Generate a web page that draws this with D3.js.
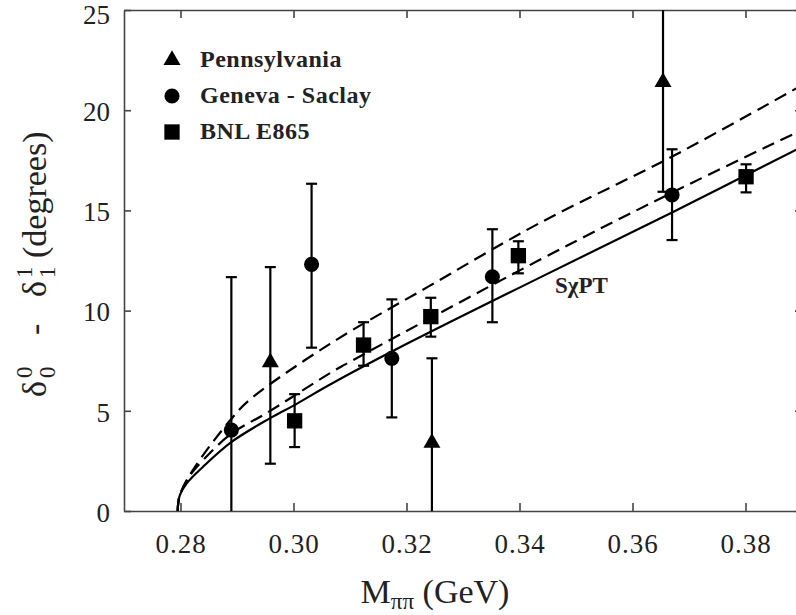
<!DOCTYPE html>
<html>
<head>
<meta charset="utf-8">
<script src="https://cdn.jsdelivr.net/npm/d3@7"></script>
<style>
  body { margin: 0; background: #fff; }
  svg { display: block; }
</style>
</head>
<body>
<div id="chart"></div>
<script>
// values (M in GeV, phase difference in degrees)
const pennX  = [0.2959, 0.3245, 0.3654];
const pennY  = [7.42, 3.40, 21.4];
const pennLo = [2.36, -1.0, 15.93];
const pennHi = [12.17, 7.62, 27.0];

const genX  = [0.2890, 0.3032, 0.3174, 0.3352, 0.3670];
const genY  = [4.04, 12.31, 7.62, 11.69, 15.77];
const genLo = [-3.5, 8.15, 4.67, 9.42, 13.52];
const genHi = [11.67, 16.33, 10.56, 14.06, 18.05];

const bnlX  = [0.3002, 0.3124, 0.3243, 0.3398, 0.3801];
const bnlY  = [4.50, 8.28, 9.70, 12.74, 16.68];
const bnlLo = [3.19, 7.25, 8.70, 11.86, 15.90];
const bnlHi = [5.83, 9.42, 10.64, 13.46, 17.30];

// theory curves
const solidX = [0.2795, 0.2796, 0.2799, 0.2811, 0.2840, 0.2891, 0.2958, 0.3000, 0.3064, 0.3186, 0.3434, 0.3670, 0.3890];
const solidY = [0, 0.40, 0.80, 1.38, 2.21, 3.46, 4.62, 5.26, 6.30, 8.13, 11.62, 14.90, 18.03];
const upperX = [0.2795, 0.2796, 0.2799, 0.2813, 0.2840, 0.2891, 0.2922, 0.3064, 0.3240, 0.3435, 0.3671, 0.3890];
const upperY = [0, 0.40, 0.80, 1.63, 2.79, 4.63, 5.54, 8.33, 11.22, 14.36, 17.70, 21.09];
const middleX = [0.2795, 0.2796, 0.2799, 0.2813, 0.2840, 0.2891, 0.2952, 0.3064, 0.3090, 0.3435, 0.3671, 0.3890];
const middleY = [0, 0.40, 0.80, 1.63, 2.54, 3.88, 4.88, 6.87, 7.29, 12.52, 15.90, 18.88];

const xTicks = [0.28, 0.30, 0.32, 0.34, 0.36, 0.38];
const yTicks = [0, 5, 10, 15, 20, 25];
const legendNames = ["Pennsylvania", "Geneva - Saclay", "BNL E865"];

const width = 796, height = 615;
const plotLeft = 124, plotTop = 10, plotBottom = 511, plotRight = 802;
const serif = "Liberation Serif";

const svg = d3.select("#chart")
  .append("svg")
    .attr("width", width)
    .attr("height", height)
    .style("font-family", serif);

const x = d3.scaleLinear().domain([0.27, 0.39]).range([plotLeft, plotRight]);
const y = d3.scaleLinear().domain([0, 25]).range([plotBottom, plotTop]);

svg.append("clipPath").attr("id", "plot")
  .append("rect")
    .attr("x", plotLeft).attr("y", plotTop)
    .attr("width", plotRight - plotLeft).attr("height", plotBottom - plotTop);

// axes, ticks pointing inward
const axisColor = "#444";
const styleAxis = g => {
  g.attr("font-family", null).attr("font-size", null);
  g.select(".domain").attr("stroke", axisColor).attr("stroke-width", 1.6);
  g.selectAll(".tick line").attr("stroke", axisColor).attr("stroke-width", 1.6);
  g.selectAll("text").attr("fill", "#222").style("font-family", serif).style("font-size", "27px");
};

svg.append("g")
  .attr("transform", `translate(0,${plotBottom})`)
  .call(d3.axisBottom(x).tickValues(xTicks).tickSize(-8).tickSizeOuter(0).tickFormat(d3.format(".2f")))
  .call(styleAxis)
  .call(g => g.selectAll("text").attr("y", 42).attr("dy", 0).attr("letter-spacing", 1));

svg.append("g")
  .attr("transform", `translate(${plotLeft},0)`)
  .call(d3.axisLeft(y).tickValues(yTicks).tickSize(-7).tickSizeOuter(0))
  .call(styleAxis)
  .call(g => g.selectAll("text").attr("x", -14).attr("dy", d => d === 25 ? "0.5em" : "0.38em"));

svg.append("g")
  .attr("transform", `translate(0,${plotTop})`)
  .call(d3.axisTop(x).tickValues(xTicks).tickSize(-8).tickSizeOuter(0).tickFormat(""))
  .call(styleAxis);

svg.append("g")
  .attr("transform", `translate(${plotRight},0)`)
  .call(d3.axisRight(y).tickValues(yTicks).tickSize(-7).tickSizeOuter(0).tickFormat(""))
  .call(styleAxis);

// curves
const line = d3.line()
  .x(d => x(d[0]))
  .y(d => y(d[1]))
  .curve(d3.curveCatmullRom.alpha(0.5));

const curves = [
  {xs: solidX, ys: solidY, dash: null},
  {xs: upperX, ys: upperY, dash: "13,7"},
  {xs: middleX, ys: middleY, dash: "13,7"}
];

const plot = svg.append("g").attr("clip-path", "url(#plot)");

plot.selectAll("path.curve")
  .data(curves)
  .join("path")
    .attr("class", "curve")
    .attr("d", c => line(d3.zip(c.xs, c.ys)))
    .attr("fill", "none")
    .attr("stroke", "#000")
    .attr("stroke-width", 2.2)
    .attr("stroke-dasharray", c => c.dash);

// data sets
const groups = [
  {name: legendNames[0], xs: pennX, ys: pennY, lo: pennLo, hi: pennHi, symbol: d3.symbolTriangle, size: 125},
  {name: legendNames[1], xs: genX, ys: genY, lo: genLo, hi: genHi, symbol: d3.symbolCircle, size: 180},
  {name: legendNames[2], xs: bnlX, ys: bnlY, lo: bnlLo, hi: bnlHi, symbol: d3.symbolSquare, size: 235}
];

const capW = 5.5;
groups.forEach(grp => {
  const pts = grp.xs.map((v, i) => ({x: v, y: grp.ys[i], lo: grp.lo[i], hi: grp.hi[i]}));
  const g = plot.append("g");

  g.selectAll("line.bar")
    .data(pts)
    .join("line")
      .attr("class", "bar")
      .attr("x1", d => x(d.x)).attr("x2", d => x(d.x))
      .attr("y1", d => y(d.lo)).attr("y2", d => y(d.hi))
      .attr("stroke", "#000").attr("stroke-width", 2.2);

  ["lo", "hi"].forEach(k => {
    g.selectAll("line.cap-" + k)
      .data(pts)
      .join("line")
        .attr("class", "cap-" + k)
        .attr("x1", d => x(d.x) - capW).attr("x2", d => x(d.x) + capW)
        .attr("y1", d => y(d[k])).attr("y2", d => y(d[k]))
        .attr("stroke", "#000").attr("stroke-width", 2.2);
  });

  g.selectAll("path.mark")
    .data(pts)
    .join("path")
      .attr("class", "mark")
      .attr("transform", d => `translate(${x(d.x)},${y(d.y)})`)
      .attr("d", d3.symbol().type(grp.symbol).size(grp.size))
      .attr("fill", "#000");
});

// legend
const legend = svg.append("g").attr("transform", "translate(172,60)");
groups.forEach((grp, i) => {
  legend.append("path")
    .attr("transform", `translate(0,${i * 36})`)
    .attr("d", d3.symbol().type(grp.symbol).size(grp.size))
    .attr("fill", "#000");
  legend.append("text")
    .attr("x", 28).attr("y", i * 36 + 7)
    .style("font-family", serif)
    .attr("font-size", 24).attr("font-weight", "bold")
    .attr("letter-spacing", 0.5)
    .attr("fill", "#222")
    .text(grp.name);
});

// curve label
svg.append("text")
  .attr("x", 555).attr("y", 293)
  .style("font-family", serif)
  .attr("font-size", 23).attr("font-weight", "bold")
  .attr("fill", "#222")
  .text("S\u03c7PT");

// x title
const xt = svg.append("text")
  .attr("x", 435).attr("y", 603)
  .attr("text-anchor", "middle")
  .style("font-family", serif)
  .attr("font-size", 34)
  .attr("fill", "#222");
xt.append("tspan").text("M");
xt.append("tspan").attr("font-size", 23).attr("dy", 6).text("\u03c0\u03c0");
xt.append("tspan").attr("dy", -6).text(" (GeV)");

// y title, rotated
const yt = svg.append("g")
  .attr("transform", "translate(46,397) rotate(-90)")
  .style("font-family", serif)
  .attr("fill", "#222");
const delta = (x0, sup, sub) => {
  yt.append("text").attr("x", x0).attr("font-size", 34).text("\u03b4");
  yt.append("text").attr("x", x0 + 19).attr("y", -14).attr("font-size", 23).text(sup);
  yt.append("text").attr("x", x0 + 19).attr("y", 9).attr("font-size", 23).text(sub);
};
delta(0, "0", "0");
yt.append("text").attr("x", 62).attr("font-size", 34).text("-");
delta(100, "1", "1");
yt.append("text").attr("x", 139).attr("font-size", 34).text("(degrees)");
</script>
</body>
</html>
